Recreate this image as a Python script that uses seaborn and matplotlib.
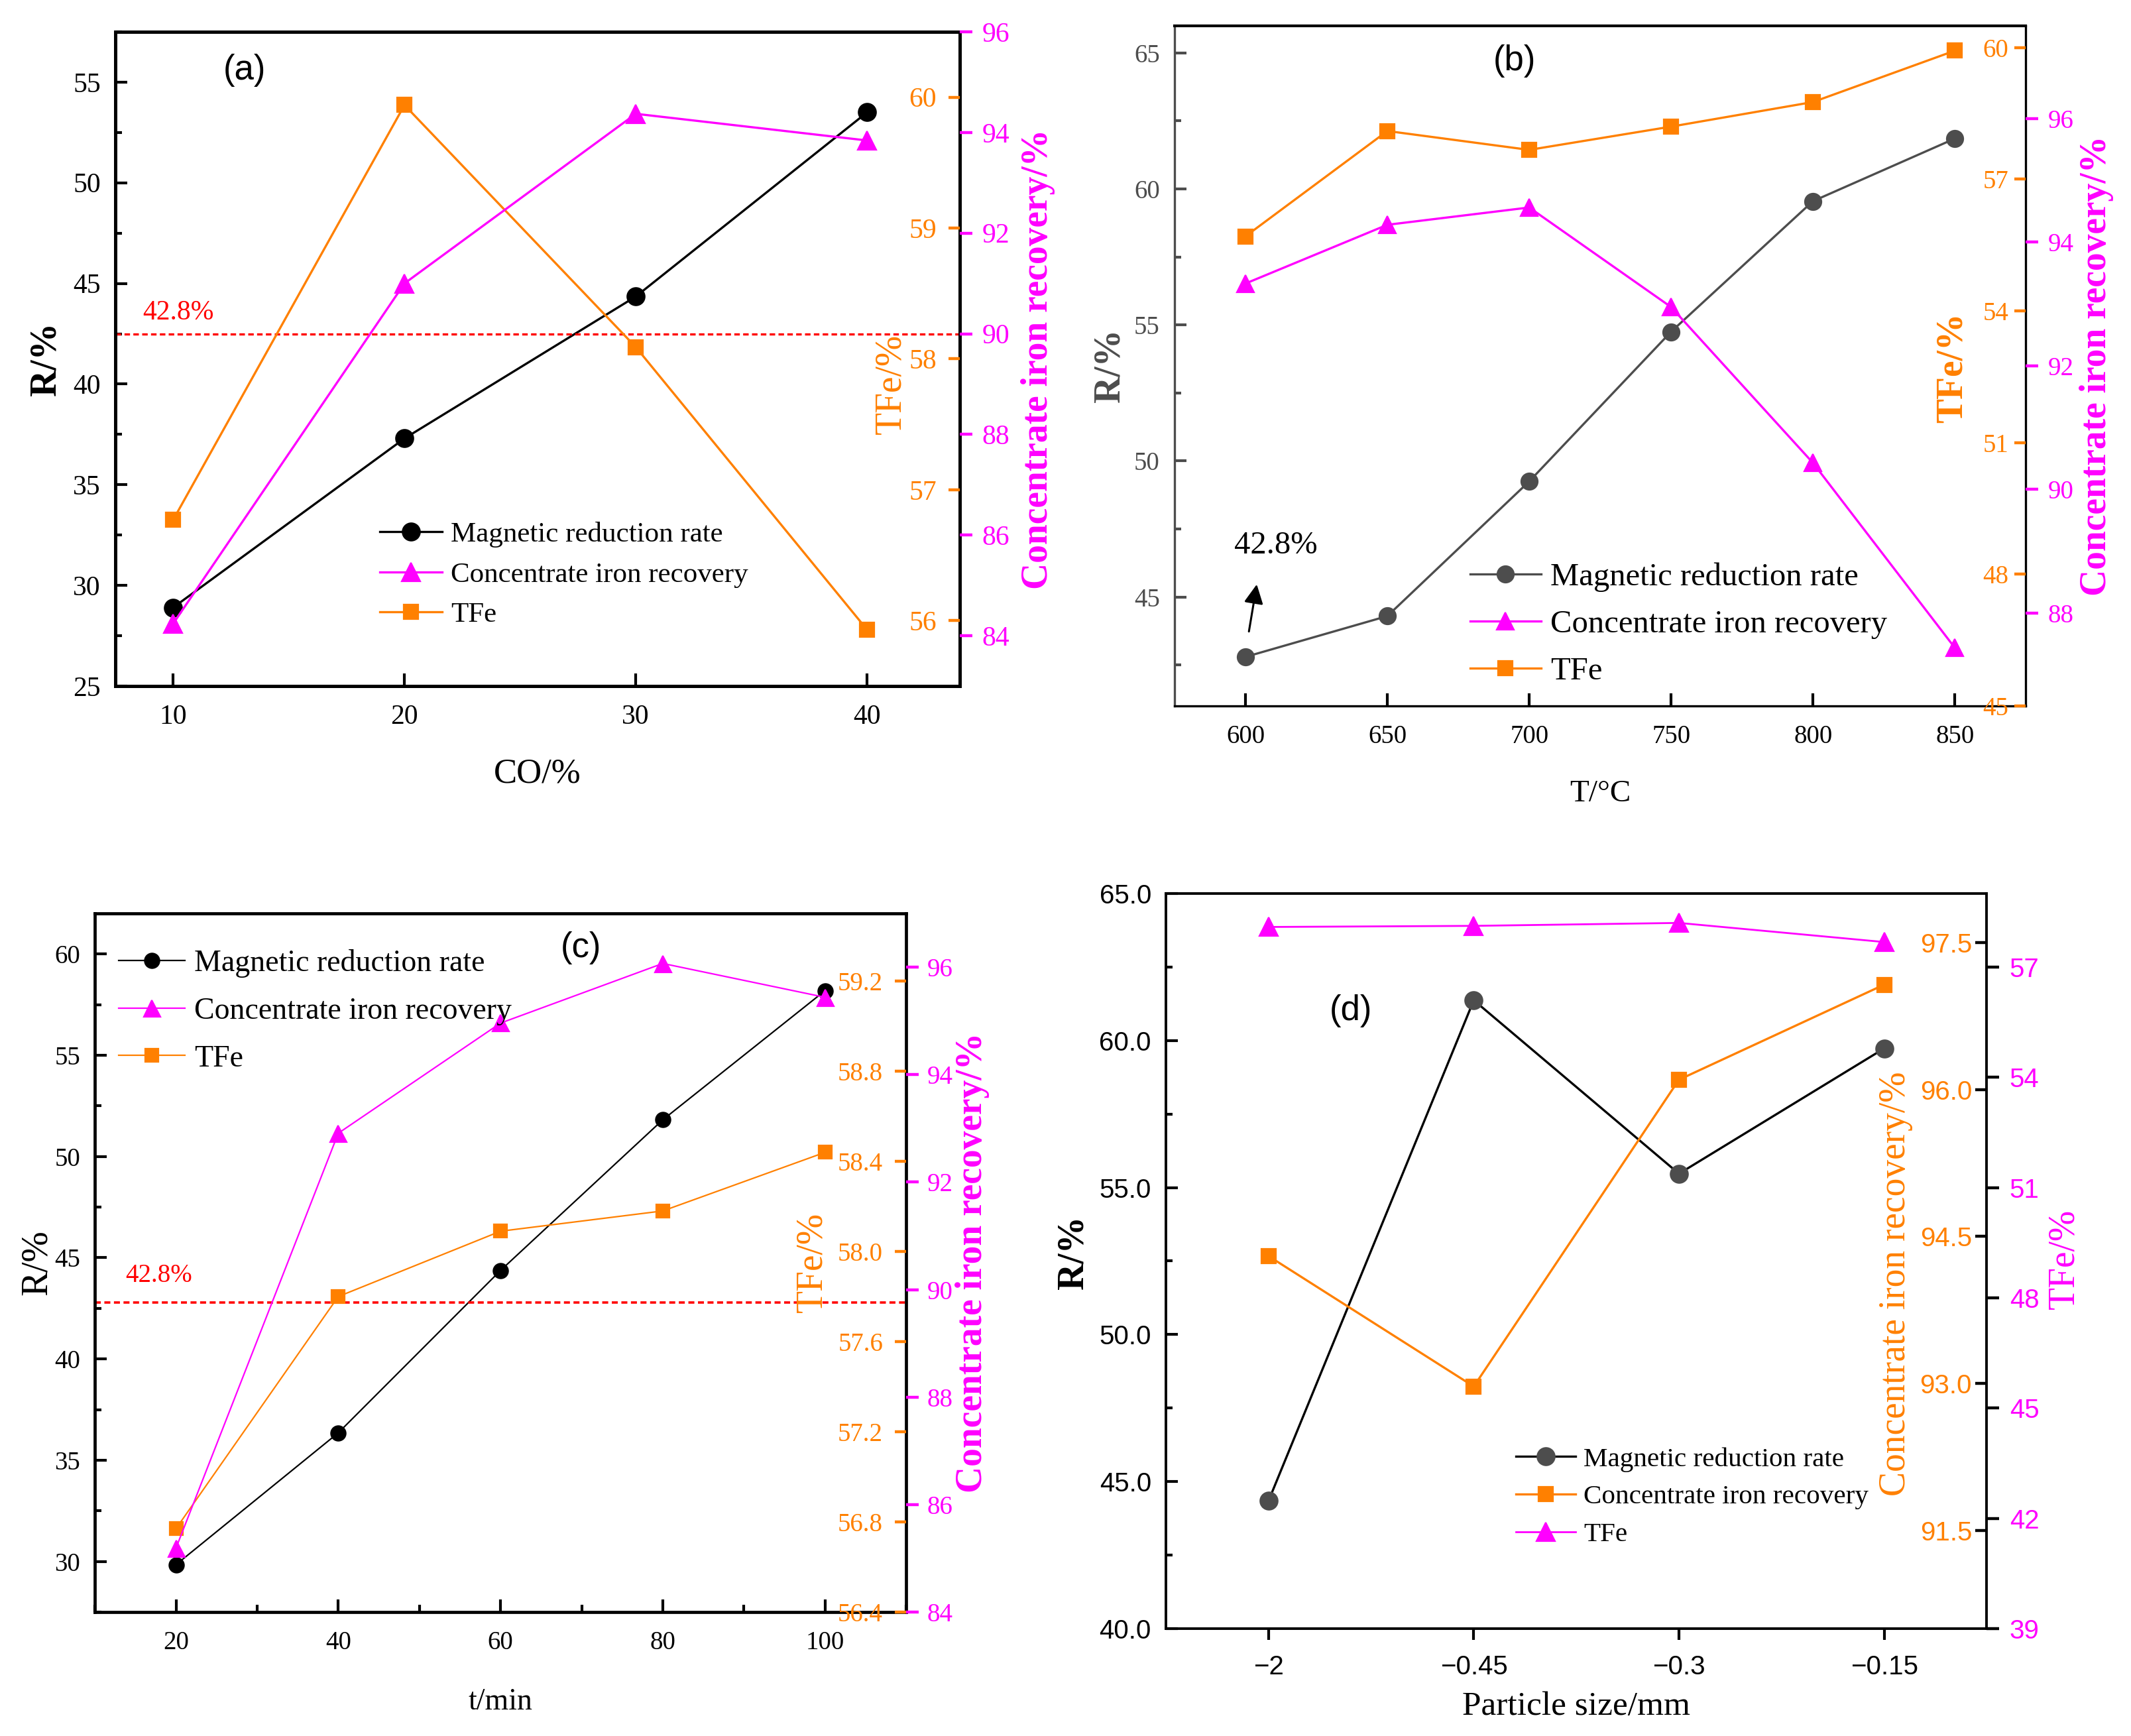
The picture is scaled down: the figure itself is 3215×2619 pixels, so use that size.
import matplotlib
matplotlib.use("Agg")
import matplotlib.pyplot as plt
import seaborn as sns
from matplotlib.ticker import MultipleLocator

plt.rcParams['font.family'] = 'Liberation Serif'

ORANGE = '#FF8000'
MAGENTA = '#FF00FF'
GRAY = '#4D4D4D'

# (a) CO concentration
co_pct = [10, 20, 30, 40]
a_reduction = [28.9, 37.3, 44.35, 53.5]
a_recovery = [84.24, 91.0, 94.37, 93.84]
a_tfe = [56.77, 59.94, 58.09, 55.93]

# (b) temperature
temp_c = [600, 650, 700, 750, 800, 850]
b_reduction = [42.8, 44.3, 49.25, 54.75, 59.55, 61.85]
b_recovery = [93.33, 94.28, 94.56, 92.95, 90.43, 87.44]
b_tfe = [55.7, 58.1, 57.67, 58.2, 58.76, 59.93]

# (c) time
time_min = [20, 40, 60, 80, 100]
c_reduction = [29.84, 36.35, 44.37, 51.81, 58.19]
c_recovery = [85.19, 92.91, 94.96, 96.07, 95.44]
c_tfe = [56.77, 57.8, 58.09, 58.18, 58.44]

# (d) particle size
size_mm = ['\u22122', '\u22120.45', '\u22120.3', '\u22120.15']
d_reduction = [44.35, 61.37, 55.47, 59.73]
d_recovery = [94.3, 92.97, 96.1, 97.07]
d_tfe = [58.09, 58.12, 58.2, 57.68]

fig = plt.figure(figsize=(16.08, 13.095), dpi=200)


def line(ax, x, y, color, marker, ms, lw, label, mfc=None):
    sns.lineplot(x=x, y=y, ax=ax, color=color, marker=marker, markersize=ms,
                 linewidth=lw, markerfacecolor=mfc or color,
                 markeredgecolor=mfc or color, markeredgewidth=0.8,
                 label=label, legend=False, sort=False)


def base(rect, spine_lw, ylim, yticks, size, fmt='{:g}'):
    ax = fig.add_axes(rect)
    for s in ax.spines.values():
        s.set_linewidth(spine_lw)
    ax.set_ylim(*ylim)
    ax.set_yticks(yticks, [fmt.format(v) for v in yticks])
    ax.yaxis.set_minor_locator(MultipleLocator(2.5))
    ax.tick_params(axis='y', which='major', direction='in', length=6.5, width=1.5, pad=8, labelsize=size)
    ax.tick_params(axis='y', which='minor', direction='in', length=3.5, width=1.5)
    ax.tick_params(axis='x', which='both', direction='in', length=7, width=1.5, pad=10, labelsize=size)
    return ax


def twin(ax, ylim, yticks, color, inside, pad, size, fmt='{:g}', tick_color=None):
    tw = ax.twinx()
    for s in tw.spines.values():
        s.set_visible(False)
    tw.set_ylim(*ylim)
    tw.set_yticks(yticks, [fmt.format(v) for v in yticks])
    tw.tick_params(axis='y', direction='in' if inside else 'out',
                   length=6 if inside else 7, width=1.6,
                   pad=-pad if inside else pad,
                   color=tick_color or color, labelcolor=color, labelsize=size)
    if inside:
        for t in tw.get_yticklabels():
            t.set_horizontalalignment('right')
    return tw


def ylab(axis, text, color, x, y, size=20, weight='bold'):
    axis.set_ylabel(text, color=color, fontsize=size, fontweight=weight)
    axis.yaxis.set_label_coords(x, y)
    axis.yaxis.label.set_va('center')


def legend(ax_top, axes, x0, ytop, size, spacing):
    handles, labels = [], []
    for a in axes:
        h, l = a.get_legend_handles_labels()
        handles += h
        labels += l
    ax_top.legend(handles, labels, loc='upper left', bbox_to_anchor=(x0, ytop),
                  frameon=False, borderpad=0, borderaxespad=0, handlelength=2.2,
                  handletextpad=0.3, labelspacing=spacing, fontsize=size)


# ---------------- (a) ----------------
ax = base([0.0541, 0.6048, 0.3961, 0.3769], 1.8, (25, 57.5), range(25, 56, 5), 15)
ax2 = twin(ax, (55.5, 60.5), [56, 57, 58, 59, 60], ORANGE, True, 12.6, 15)
ax3 = twin(ax, (83, 96), range(84, 97, 2), MAGENTA, False, 5, 15)
line(ax, co_pct, a_reduction, 'black', 'o', 9.5, 1.2, 'Magnetic reduction rate')
line(ax3, co_pct, a_recovery, MAGENTA, '^', 10, 1.2, 'Concentrate iron recovery')
line(ax2, co_pct, a_tfe, ORANGE, 's', 8, 1.2, 'TFe')
ax.set_xlim(7.5, 44)
ax.set_xticks(co_pct)
ax.axhline(42.5, color='red', linestyle=(0, (2.5, 1.5)), linewidth=1.2)
ax.text(8.67, 43.55, '42.8%', color='red', fontsize=15, ha='left', va='center')
ax.text(13.1, 55.6, '(a)', family='Liberation Sans', fontsize=19, ha='center', va='center')
ax.set_xlabel('CO/%', fontsize=19)
ax.xaxis.set_label_coords(0.5, -0.11)
ylab(ax, 'R/%', 'black', -0.082, 0.5)
ylab(ax2, 'TFe/%', ORANGE, 0.919, 0.462, weight='normal')
ylab(ax3, 'Concentrate iron recovery/%', MAGENTA, 1.093, 0.5)
legend(ax3, [ax, ax3, ax2], 0.313, 0.251, 15.5, 0.49)

# ---------------- (b) ----------------
ax = base([0.5510, 0.5934, 0.3993, 0.3918], 1.2, (41, 66), range(45, 66, 5), 14)
ax.spines['left'].set_color(GRAY)
ax.spines['top'].set_linewidth(1.5)
ax.tick_params(axis='y', which='both', colors=GRAY)
ax2 = twin(ax, (45, 60.5), range(45, 61, 3), ORANGE, True, 9.4, 14)
ax3 = twin(ax, (86.5, 97.5), range(88, 97, 2), MAGENTA, False, 5, 14)
line(ax, temp_c, b_reduction, GRAY, 'o', 9, 1.2, 'Magnetic reduction rate')
line(ax3, temp_c, b_recovery, MAGENTA, '^', 9.5, 1.2, 'Concentrate iron recovery')
line(ax2, temp_c, b_tfe, ORANGE, 's', 8, 1.2, 'TFe')
ax.set_xlim(575, 875)
ax.set_xticks(temp_c)
ax.text(596, 46.9, '42.8%', fontsize=17.5, ha='left', va='center')
ax.annotate('', xy=(604.2, 45.6), xytext=(601, 43.6),
            arrowprops=dict(arrowstyle='-|>', color='black', lw=1.1, mutation_scale=22))
ax.text(694.9, 64.7, '(b)', family='Liberation Sans', fontsize=19, ha='center', va='center')
ax.set_xlabel('T/\u00b0C', fontsize=17)
ax.xaxis.set_label_coords(0.5, -0.109)
ylab(ax, 'R/%', GRAY, -0.076, 0.5)
ylab(ax2, 'TFe/%', ORANGE, 0.914, 0.497)
ylab(ax3, 'Concentrate iron recovery/%', MAGENTA, 1.083, 0.5)
legend(ax3, [ax, ax3, ax2], 0.347, 0.211, 17.5, 0.56)

# ---------------- (c) ----------------
ax = base([0.0445, 0.0714, 0.3806, 0.4024], 1.7, (27.5, 62), range(30, 61, 5), 14)
ax.xaxis.set_minor_locator(MultipleLocator(10))
ax.tick_params(axis='x', which='minor', direction='in', length=4, width=1.5)
c_ticks = [56.4, 56.8, 57.2, 57.6, 58.0, 58.4, 58.8, 59.2]
ax2 = twin(ax, (56.4, 59.5), c_ticks, ORANGE, True, 12.6, 14, fmt='{:.1f}')
ax3 = twin(ax, (84, 97), range(84, 97, 2), MAGENTA, False, 4.3, 14)
line(ax, time_min, c_reduction, 'black', 'o', 8, 0.8, 'Magnetic reduction rate')
line(ax3, time_min, c_recovery, MAGENTA, '^', 9, 0.8, 'Concentrate iron recovery')
line(ax2, time_min, c_tfe, ORANGE, 's', 7.5, 0.8, 'TFe')
ax.set_xlim(10, 110)
ax.set_xticks(time_min)
ax.axhline(42.8, color='red', linestyle=(0, (2.5, 1.5)), linewidth=1.3)
ax.text(13.8, 44.1, '42.8%', color='red', fontsize=14, ha='left', va='center')
ax.text(69.9, 60.3, '(c)', family='Liberation Sans', fontsize=19, ha='center', va='center')
ax.set_xlabel('t/min', fontsize=16.5)
ax.xaxis.set_label_coords(0.5, -0.109)
ylab(ax, 'R/%', 'black', -0.071, 0.5, weight='normal')
ylab(ax2, 'TFe/%', ORANGE, 0.884, 0.501, weight='normal')
ylab(ax3, 'Concentrate iron recovery/%', MAGENTA, 1.082, 0.5)
legend(ax3, [ax, ax3, ax2], 0.029, 0.949, 16.5, 0.64)

# ---------------- (d) ----------------
ax = base([0.5470, 0.0619, 0.3850, 0.4234], 1.4, (40, 65), range(40, 66, 5), 14.5, fmt='{:.1f}')
ax.tick_params(axis='x', which='both', direction='out', length=6, pad=8)
ax.tick_params(axis='both', labelfontfamily='Liberation Sans')
ax2 = twin(ax, (90.5, 98), [91.5, 93.0, 94.5, 96.0, 97.5], ORANGE, True, 8, 14.5,
           fmt='{:.1f}', tick_color='black')
ax3 = twin(ax, (39, 59), range(39, 58, 3), MAGENTA, False, 5.4, 14.5, tick_color='black')
for a in (ax2, ax3):
    a.tick_params(axis='y', labelfontfamily='Liberation Sans')
for t in ax2.get_yticklabels():
    t.set_horizontalalignment('right')
line(ax, size_mm, d_reduction, 'black', 'o', 9.5, 1.2, 'Magnetic reduction rate', mfc=GRAY)
line(ax2, size_mm, d_recovery, ORANGE, 's', 8, 1.2, 'Concentrate iron recovery')
line(ax3, size_mm, d_tfe, MAGENTA, '^', 10, 1.0, 'TFe')
ax.set_xlim(-0.5, 3.5)
ax.text(0.40, 61.0, '(d)', family='Liberation Sans', fontsize=19, ha='center', va='center')
ax.set_xlabel('Particle size/mm', fontsize=18.5)
ax.xaxis.set_label_coords(0.5, -0.085)
ylab(ax, 'R/%', 'black', -0.113, 0.512)
ylab(ax2, 'Concentrate iron recovery/%', ORANGE, 0.889, 0.469, weight='normal')
ylab(ax3, 'TFe/%', MAGENTA, 1.095, 0.503, weight='normal')
legend(ax3, [ax, ax2, ax3], 0.426, 0.247, 14.8, 0.46)

fig.savefig('out.png', dpi=200)
